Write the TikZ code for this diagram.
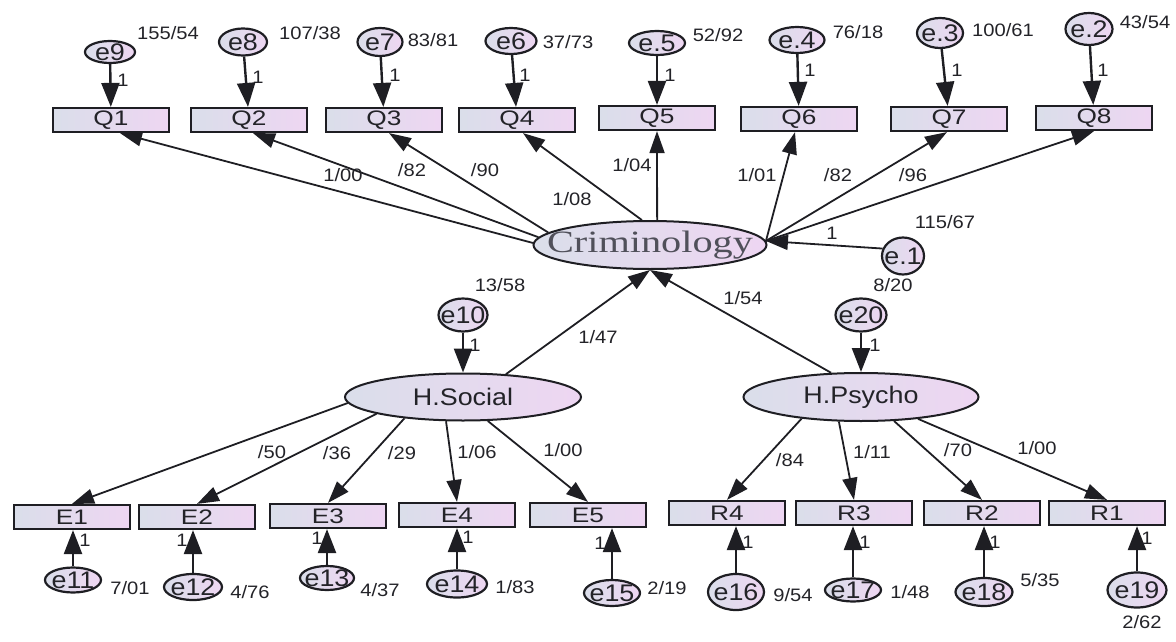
\documentclass[tikz,border=0pt]{standalone}
\usepackage{fontspec}
\setmainfont{Liberation Sans}
\newfontfamily\lab[FakeStretch=1.12]{Liberation Sans}
\newfontfamily\boxfont[FakeStretch=1.25]{Liberation Sans}
\newfontfamily\crimfont[FakeStretch=1.3]{Liberation Serif}
\usetikzlibrary{arrows.meta,shapes.geometric}

\definecolor{gL}{RGB}{218,222,234}
\definecolor{gR}{RGB}{238,214,242}
\definecolor{bd}{RGB}{30,30,35}
\definecolor{tx}{RGB}{35,35,40}
\definecolor{crimtx}{RGB}{80,80,90}

\tikzset{
  obs/.style={rectangle, draw=bd, line width=2.2pt, left color=gL, right color=gR,
    minimum width=116pt, minimum height=24pt, inner sep=0pt,
    font=\boxfont\fontsize{21}{21}\selectfont, text=tx},
  lat/.style={ellipse, draw=bd, line width=2pt, left color=gL, right color=gR, inner sep=0pt},
  err/.style={ellipse, draw=bd, line width=2.2pt, left color=gL, right color=gR, inner sep=0pt},
  elab/.style={label={[font=\lab\fontsize{24}{24}\selectfont, text=tx, inner sep=0pt]center:#1}},
  hlab/.style={label={[font=\lab\fontsize{24}{24}\selectfont, text=tx, inner sep=0pt]center:#1}},
  num/.style={font=\lab\fontsize{18}{18}\selectfont, text=tx, inner sep=0pt},
  ld/.style={line width=1.8pt, draw=bd, -{Triangle[length=22pt,width=15pt]}},
  ea/.style={line width=2.4pt, draw=bd, -{Triangle[length=24pt,width=18pt]}},
}

\begin{document}
\begin{tikzpicture}[x=1pt,y=-1pt]
\useasboundingbox (0,0) rectangle (1176,642);

% ---- top observed
\node[obs] (Q1) at (111,120) {Q1};
\node[obs] (Q2) at (249,120) {Q2};
\node[obs] (Q3) at (384,120) {Q3};
\node[obs] (Q4) at (517,120) {Q4};
\node[obs] (Q5) at (657,118) {Q5};
\node[obs] (Q6) at (799,119) {Q6};
\node[obs] (Q7) at (949,119) {Q7};
\node[obs] (Q8) at (1094,118) {Q8};

% ---- top errors
\node[err, minimum width=50pt, minimum height=22pt, elab=e9] (e9) at (110,52) {};
\node[err, minimum width=48pt, minimum height=27pt, elab=e8] (e8) at (243,42) {};
\node[err, minimum width=45pt, minimum height=28pt, elab=e7] (e7) at (380,42) {};
\node[err, minimum width=51pt, minimum height=26pt, elab=e6] (e6) at (511,41) {};
\node[err, minimum width=56pt, minimum height=24pt, elab=e.5] (e5) at (657,43) {};
\node[err, minimum width=55pt, minimum height=26pt, elab=e.4] (e4) at (797,40) {};
\node[err, minimum width=46pt, minimum height=30pt, elab=e.3] (e3) at (940,33) {};
\node[err, minimum width=47pt, minimum height=32pt, elab=e.2] (e2) at (1089,29) {};

\node[num] (v9) at (168,33) {155/54};
\node[num] (v8) at (310,33) {107/38};
\node[num] (v7) at (433,40) {83/81};
\node[num] (v6) at (568,42) {37/73};
\node[num] (v5) at (718,35) {52/92};
\node[num] (v4) at (858,32) {76/18};
\node[num] (v3) at (1003,30) {100/61};
\node[num] (v2) at (1145,22) {43/54};

\node[num] (o9) at (123,80) {1};
\node[num] (o8) at (258,77) {1};
\node[num] (o7) at (395,75) {1};
\node[num] (o6) at (525,75) {1};
\node[num] (o5) at (670,75) {1};
\node[num] (o4) at (810,70) {1};
\node[num] (o3) at (957,70) {1};
\node[num] (o2) at (1103,70) {1};

\draw[ea] (e9) -- (Q1);
\draw[ea] (e8) -- (Q2);
\draw[ea] (e7) -- (Q3);
\draw[ea] (e6) -- (Q4);
\draw[ea] (e5) -- (Q5);
\draw[ea] (e4) -- (Q6);
\draw[ea] (e3) -- (Q7);
\draw[ea] (e2) -- (Q8);

% ---- Criminology
\node[lat, minimum width=233pt, minimum height=48pt,
  label={[font=\crimfont\fontsize{31}{31}\selectfont, text=crimtx, inner sep=0pt]center:Criminology}]
  (crim) at (650,245) {};
\node[err, minimum width=42pt, minimum height=37pt, elab=e.1] (e1) at (903,256) {};
\node[num] (o1) at (832,233) {1};
\node[num] (v1a) at (945,222) {115/67};
\node[num] (v1b) at (893,285) {8/20};

\draw[ld] (crim.179) -- ([xshift=9pt]Q1.south);
\draw[ld] (crim.176) -- ([xshift=4pt]Q2.south);
\draw[ld] (crim.173) -- ([xshift=5pt]Q3.south);
\draw[ld] (crim.108) -- ([xshift=6pt]Q4.south);
\draw[ld] (crim.74) -- (Q5.south);
\draw[ld] (crim.2) -- ([xshift=-4pt]Q6.south);
\draw[ld] (crim.2) -- ([xshift=-2pt]Q7.south);
\draw[ld] (crim.2) -- (Q8.south);
\draw[ld] (e1.160) -- (crim.2);

\node[num] (p1) at (343,175) {1/00};
\node[num] (p2) at (412,170) {/82};
\node[num] (p3) at (485,170) {/90};
\node[num] (p4) at (572,199) {1/08};
\node[num] (p5) at (632,165) {1/04};
\node[num] (p6) at (757,175) {1/01};
\node[num] (p7) at (838,175) {/82};
\node[num] (p8) at (913,175) {/96};

% ---- H.Social and H.Psycho
\node[lat, minimum width=236pt, minimum height=47pt, hlab=H.Social] (hs) at (463,397) {};
\node[lat, minimum width=235pt, minimum height=48pt, hlab=H.Psycho] (hp) at (861,397) {};
\node[err, minimum width=49pt, minimum height=33pt, elab=e10] (e10) at (463,315) {};
\node[err, minimum width=51pt, minimum height=33pt, elab=e20] (e20) at (861,315) {};

\node[num] (v10) at (500,285) {13/58};
\node[num] (o10) at (475,345) {1};
\node[num] (o20) at (875,345) {1};
\node[num] (g1) at (598,337) {1/47};
\node[num] (g2) at (743,298) {1/54};

\draw[ld] (hs.28) -- (crim.south);
\draw[ld] (hp.141) -- (crim.south);
\draw[ea] (e10) -- (hs);
\draw[ea] (e20) -- (hp);

% ---- bottom observed
\node[obs] (E1) at (72,517) {E1};
\node[obs] (E2) at (197,517) {E2};
\node[obs] (E3) at (328,516) {E3};
\node[obs] (E4) at (457,515) {E4};
\node[obs] (E5) at (588,515) {E5};
\node[obs] (R4) at (727,513) {R4};
\node[obs] (R3) at (854,513) {R3};
\node[obs] (R2) at (982,513) {R2};
\node[obs] (R1) at (1107,513) {R1};

\draw[ld] (hs.183) -- (E1.north);
\draw[ld] (hs.191) -- (E2.north);
\draw[ld] (hs.200) -- (E3.north);
\draw[ld] (hs.235) -- (E4.north);
\draw[ld] (hs.316) -- (E5.north);
\draw[ld] (hp.200) -- (R4.north);
\draw[ld] (hp.228) -- (R3.north);
\draw[ld] (hp.324) -- (R2.north);
\draw[ld] (hp.339) -- (R1.north);

\node[num] (b1) at (272,452) {/50};
\node[num] (b2) at (337,453) {/36};
\node[num] (b3) at (402,453) {/29};
\node[num] (b4) at (477,452) {1/06};
\node[num] (b5) at (563,450) {1/00};
\node[num] (c4) at (790,460) {/84};
\node[num] (c3) at (872,452) {1/11};
\node[num] (c2) at (958,450) {/70};
\node[num] (c1) at (1037,448) {1/00};

% ---- bottom errors
\node[err, minimum width=56pt, minimum height=25pt, elab=e11] (e11) at (73,580) {};
\node[err, minimum width=58pt, minimum height=26pt, elab=e12] (e12) at (193,587) {};
\node[err, minimum width=54pt, minimum height=24pt, elab=e13] (e13) at (327,578) {};
\node[err, minimum width=60pt, minimum height=27pt, elab=e14] (e14) at (457,584) {};
\node[err, minimum width=56pt, minimum height=26pt, elab=e15] (e15) at (612,593) {};
\node[err, minimum width=56pt, minimum height=36pt, elab=e16] (e16) at (736,592) {};
\node[err, minimum width=56pt, minimum height=23pt, elab=e17] (e17) at (853,590) {};
\node[err, minimum width=57pt, minimum height=28pt, elab=e18] (e18) at (984,592) {};
\node[err, minimum width=59pt, minimum height=35pt, elab=e19] (e19) at (1137,590) {};

\draw[ea] (e11) -- (e11 |- E1.south);
\draw[ea] (e12) -- (e12 |- E2.south);
\draw[ea] (e13) -- (e13 |- E3.south);
\draw[ea] (e14) -- (e14 |- E4.south);
\draw[ea] (e15) -- (e15 |- E5.south);
\draw[ea] (e16) -- (e16 |- R4.south);
\draw[ea] (e17) -- (e17 |- R3.south);
\draw[ea] (e18) -- (e18 |- R2.south);
\draw[ea] (e19) -- (e19 |- R1.south);

\node[num] (w11) at (130,588) {7/01};
\node[num] (w12) at (250,592) {4/76};
\node[num] (w13) at (380,590) {4/37};
\node[num] (w14) at (515,587) {1/83};
\node[num] (w15) at (667,588) {2/19};
\node[num] (w16) at (793,595) {9/54};
\node[num] (w17) at (910,592) {1/48};
\node[num] (w18) at (1040,580) {5/35};
\node[num] (w19) at (1142,622) {2/62};

\node[num] (u11) at (85,540) {1};
\node[num] (u12) at (182,540) {1};
\node[num] (u13) at (317,538) {1};
\node[num] (u14) at (468,537) {1};
\node[num] (u15) at (600,543) {1};
\node[num] (u16) at (748,542) {1};
\node[num] (u17) at (865,542) {1};
\node[num] (u18) at (995,542) {1};
\node[num] (u19) at (1147,538) {1};
\end{tikzpicture}
\end{document}
